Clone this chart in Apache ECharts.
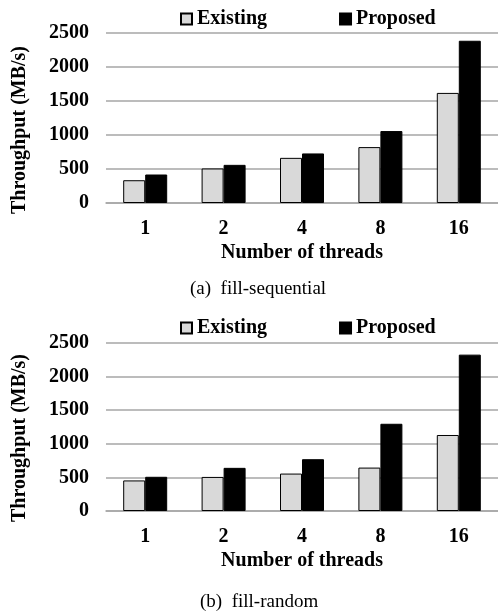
<!DOCTYPE html>
<html>
<head>
<meta charset="utf-8">
<script src="https://cdn.jsdelivr.net/npm/echarts@6/dist/echarts.min.js"></script>
<style>html,body{margin:0;padding:0;background:#fff}#c{width:498px;height:611px}</style>
</head>
<body>
<div id="c"></div>
<script>
const categories = ['1', '2', '4', '8', '16'];
const seqExisting = [335, 508, 664, 822, 1619];
const seqProposed = [419, 561, 729, 1058, 2386];
const rndExisting = [455, 507, 557, 646, 1131];
const rndProposed = [509, 642, 771, 1298, 2327];
const seriesNames = ['Existing', 'Proposed'];
const yTitle = 'Throughput (MB/s)';
const xTitle = 'Number of threads';
const captions = ['(a)  fill-sequential', '(b)  fill-random'];

const FONT = 'Liberation Serif';
const GRID_C = '#a6a6a6';
const EXIST_C = '#d9d9d9';
const PROP_C = '#000000';

const chart = echarts.init(document.getElementById('c'), null, {renderer: 'canvas'});

function xAxisCfg(i) {
  return {
    type: 'category', gridIndex: i, data: categories,
    axisLine: {show: true, lineStyle: {color: GRID_C, width: 1.5}},
    axisTick: {show: false},
    axisLabel: {fontFamily: FONT, fontWeight: 'bold', fontSize: 20, color: '#000', margin: 16},
    name: xTitle, nameLocation: 'middle', nameGap: 40,
    nameTextStyle: {fontFamily: FONT, fontWeight: 'bold', fontSize: 20, color: '#000'}
  };
}
function yAxisCfg(i) {
  return {
    type: 'value', gridIndex: i, min: 0, max: 2500, interval: 500,
    axisLine: {show: false}, axisTick: {show: false},
    axisLabel: {fontFamily: FONT, fontWeight: 'bold', fontSize: 20, color: '#000', margin: 17,
                formatter: function (v) { return String(v); }},
    splitLine: {show: true, lineStyle: {color: GRID_C, width: 1.5}}
  };
}
function legendCfg(top) {
  return {
    data: seriesNames, left: 175, top: top, itemWidth: 11, itemHeight: 11, itemGap: 72,
    icon: 'rect',
    textStyle: {fontFamily: FONT, fontWeight: 'bold', fontSize: 20, color: '#000'}
  };
}
function barSeries(name, data, i, color) {
  return {
    type: 'bar', name: name, data: data, xAxisIndex: i, yAxisIndex: i,
    barWidth: 22, barGap: '0%',
    itemStyle: {color: color, borderColor: '#000', borderWidth: 1}
  };
}

chart.setOption({
  animation: false,
  backgroundColor: '#fff',
  title: [
    {text: captions[0], left: 185, top: 275, textStyle: {fontFamily: FONT, fontWeight: 'normal', fontSize: 19, color: '#000'}},
    {text: captions[1], left: 195, top: 588, textStyle: {fontFamily: FONT, fontWeight: 'normal', fontSize: 19, color: '#000'}}
  ],
  legend: [legendCfg(4), legendCfg(313)],
  grid: [
    {left: 106, right: 0, top: 33, height: 170},
    {left: 106, right: 0, top: 343, height: 168}
  ],
  xAxis: [xAxisCfg(0), xAxisCfg(1)],
  yAxis: [yAxisCfg(0), yAxisCfg(1)],
  series: [
    barSeries(seriesNames[0], seqExisting, 0, EXIST_C),
    barSeries(seriesNames[1], seqProposed, 0, PROP_C),
    barSeries(seriesNames[0], rndExisting, 1, EXIST_C),
    barSeries(seriesNames[1], rndProposed, 1, PROP_C)
  ],
  graphic: [
    {type: 'text', x: 20, y: 130, rotation: Math.PI / 2,
     style: {text: yTitle, x: 0, y: 0, align: 'center', verticalAlign: 'middle', font: 'bold 20px "Liberation Serif"', fill: '#000'}},
    {type: 'text', x: 20, y: 438, rotation: Math.PI / 2,
     style: {text: yTitle, x: 0, y: 0, align: 'center', verticalAlign: 'middle', font: 'bold 20px "Liberation Serif"', fill: '#000'}}
  ]
});
</script>
</body>
</html>
